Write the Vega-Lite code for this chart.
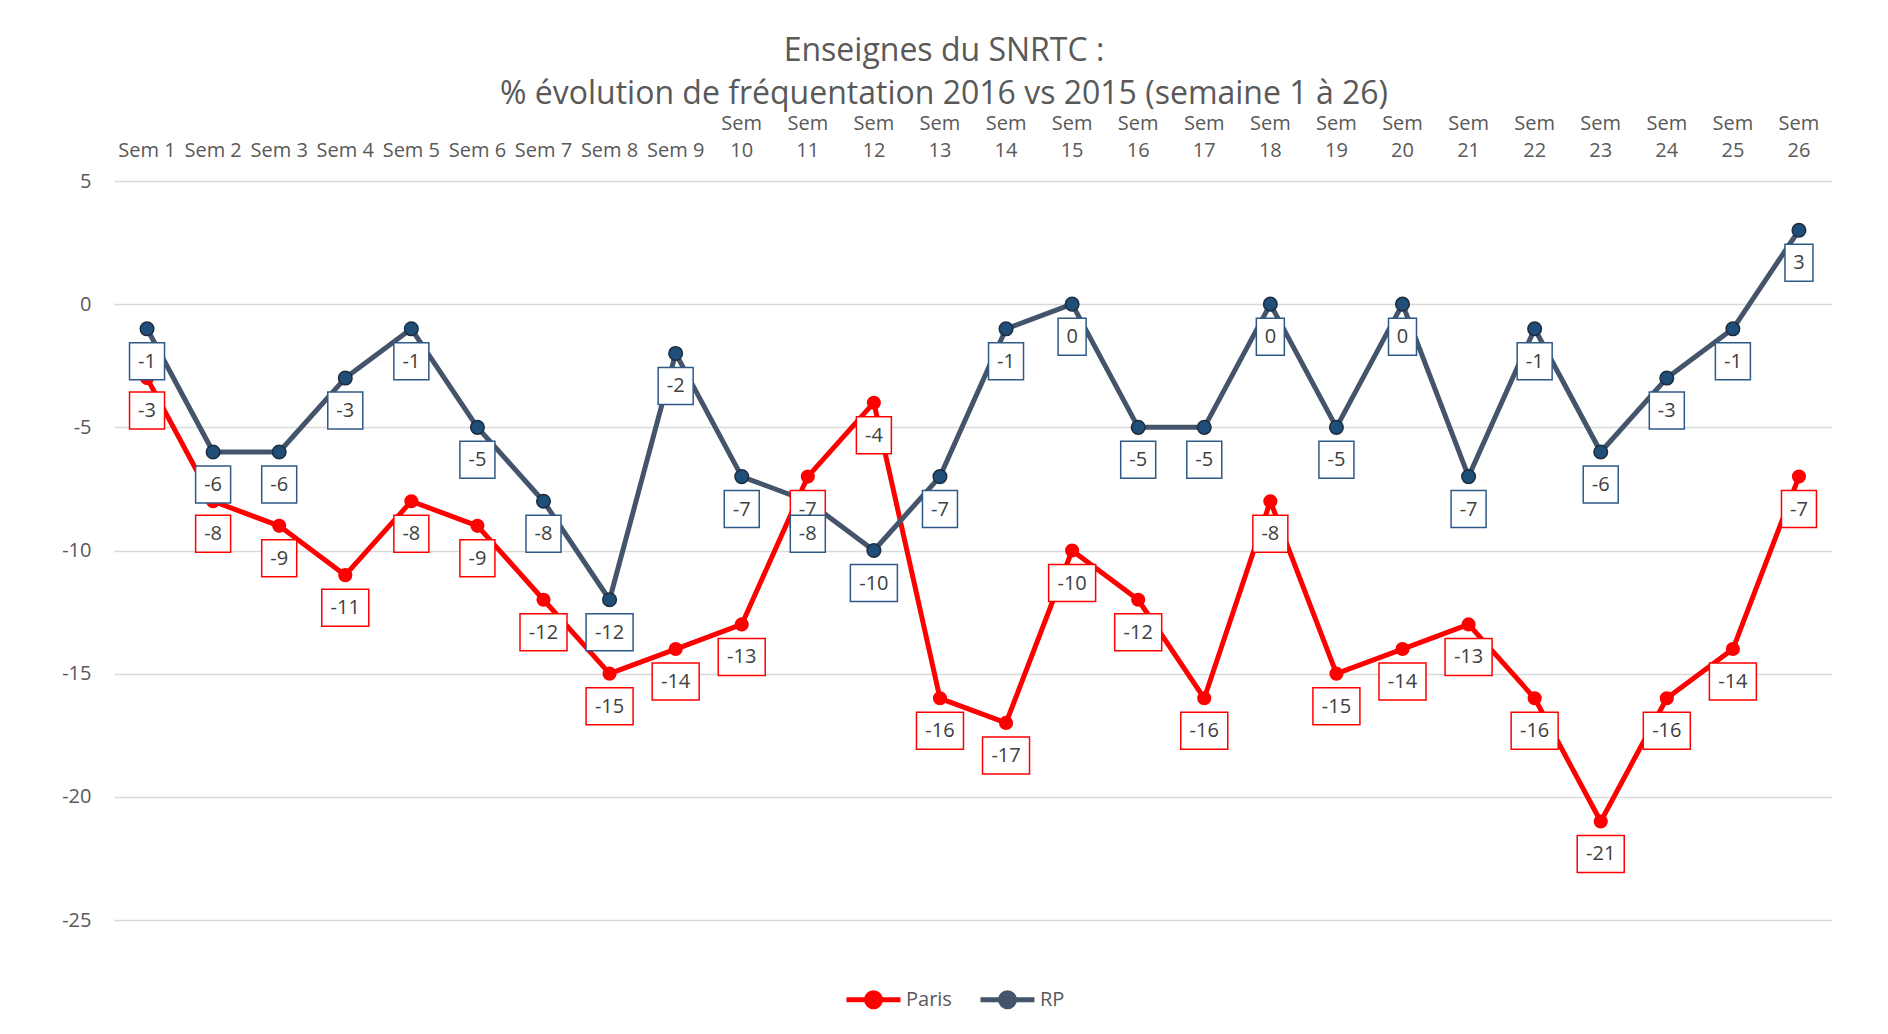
{
  "$schema": "https://vega.github.io/schema/vega-lite/v6.json",
  "width": 1718,
  "height": 739,
  "autosize": {"type": "none"},
  "padding": {"left": 114, "top": 181, "right": 56, "bottom": 114},
  "background": "white",
  "config": {
    "font": "Open Sans",
    "view": {"stroke": null},
    "axis": {"labelFont": "Open Sans", "labelColor": "#595959", "labelFontSize": 19}
  },
  "title": {
    "text": ["Enseignes du SNRTC :", "% évolution de fréquentation 2016 vs 2015 (semaine 1 à 26)"],
    "fontSize": 32,
    "font": "Open Sans",
    "fontWeight": "normal",
    "color": "#595959",
    "anchor": "middle",
    "lineHeight": 43,
    "dx": -29,
    "offset": 2
  },
  "data": {
    "values": [
      {"w": "Sem 1", "s": "Paris", "v": -3},
      {"w": "Sem 2", "s": "Paris", "v": -8},
      {"w": "Sem 3", "s": "Paris", "v": -9},
      {"w": "Sem 4", "s": "Paris", "v": -11},
      {"w": "Sem 5", "s": "Paris", "v": -8},
      {"w": "Sem 6", "s": "Paris", "v": -9},
      {"w": "Sem 7", "s": "Paris", "v": -12},
      {"w": "Sem 8", "s": "Paris", "v": -15},
      {"w": "Sem 9", "s": "Paris", "v": -14},
      {"w": "Sem 10", "s": "Paris", "v": -13},
      {"w": "Sem 11", "s": "Paris", "v": -7},
      {"w": "Sem 12", "s": "Paris", "v": -4},
      {"w": "Sem 13", "s": "Paris", "v": -16},
      {"w": "Sem 14", "s": "Paris", "v": -17},
      {"w": "Sem 15", "s": "Paris", "v": -10},
      {"w": "Sem 16", "s": "Paris", "v": -12},
      {"w": "Sem 17", "s": "Paris", "v": -16},
      {"w": "Sem 18", "s": "Paris", "v": -8},
      {"w": "Sem 19", "s": "Paris", "v": -15},
      {"w": "Sem 20", "s": "Paris", "v": -14},
      {"w": "Sem 21", "s": "Paris", "v": -13},
      {"w": "Sem 22", "s": "Paris", "v": -16},
      {"w": "Sem 23", "s": "Paris", "v": -21},
      {"w": "Sem 24", "s": "Paris", "v": -16},
      {"w": "Sem 25", "s": "Paris", "v": -14},
      {"w": "Sem 26", "s": "Paris", "v": -7},
      {"w": "Sem 1", "s": "RP", "v": -1},
      {"w": "Sem 2", "s": "RP", "v": -6},
      {"w": "Sem 3", "s": "RP", "v": -6},
      {"w": "Sem 4", "s": "RP", "v": -3},
      {"w": "Sem 5", "s": "RP", "v": -1},
      {"w": "Sem 6", "s": "RP", "v": -5},
      {"w": "Sem 7", "s": "RP", "v": -8},
      {"w": "Sem 8", "s": "RP", "v": -12},
      {"w": "Sem 9", "s": "RP", "v": -2},
      {"w": "Sem 10", "s": "RP", "v": -7},
      {"w": "Sem 11", "s": "RP", "v": -8},
      {"w": "Sem 12", "s": "RP", "v": -10},
      {"w": "Sem 13", "s": "RP", "v": -7},
      {"w": "Sem 14", "s": "RP", "v": -1},
      {"w": "Sem 15", "s": "RP", "v": 0},
      {"w": "Sem 16", "s": "RP", "v": -5},
      {"w": "Sem 17", "s": "RP", "v": -5},
      {"w": "Sem 18", "s": "RP", "v": 0},
      {"w": "Sem 19", "s": "RP", "v": -5},
      {"w": "Sem 20", "s": "RP", "v": 0},
      {"w": "Sem 21", "s": "RP", "v": -7},
      {"w": "Sem 22", "s": "RP", "v": -1},
      {"w": "Sem 23", "s": "RP", "v": -6},
      {"w": "Sem 24", "s": "RP", "v": -3},
      {"w": "Sem 25", "s": "RP", "v": -1},
      {"w": "Sem 26", "s": "RP", "v": 3}
    ]
  },
  "encoding": {
    "x": {
      "field": "w",
      "type": "nominal",
      "sort": null,
      "scale": {"paddingInner": 0, "paddingOuter": 0},
      "axis": {
        "orient": "top",
        "title": null,
        "labelAngle": 0,
        "labelOverlap": false,
        "labelFlush": false,
        "labelLimit": 0,
        "labelPadding": 48,
        "labelFontSize": 20,
        "labelLineHeight": 27,
        "labelExpr": "toNumber(slice(datum.value, 4)) >= 10 ? ['Sem', slice(datum.value, 4)] : ['', datum.value]",
        "domain": false,
        "ticks": false,
        "grid": false
      }
    },
    "y": {
      "field": "v",
      "type": "quantitative",
      "scale": {"domain": [-25, 5], "nice": false, "zero": false},
      "axis": {
        "title": null,
        "values": [-25, -20, -15, -10, -5, 0, 5],
        "labelExpr": "toString(datum.value)",
        "labelFontSize": 20,
        "domain": false,
        "ticks": false,
        "labelPadding": 23,
        "gridColor": "#D9D9D9",
        "gridWidth": 1.5
      }
    }
  },
  "layer": [
    {
      "mark": {"type": "line", "strokeWidth": 5, "strokeJoin": "round", "strokeCap": "round"},
      "encoding": {
        "color": {
          "field": "s",
          "type": "nominal",
          "scale": {"domain": ["Paris", "RP"], "range": ["#FF0000", "#44546A"]},
          "legend": {
            "title": null,
            "orient": "none",
            "direction": "horizontal",
            "legendX": 730,
            "legendY": 789,
            "padding": 0,
            "symbolType": "M-1,0L1,0M0.26,0A0.26,0.26,0,1,1,-0.26,0A0.26,0.26,0,1,1,0.26,0Z",
            "symbolSize": 2916,
            "symbolStrokeWidth": 5,
            "labelFont": "Open Sans",
            "labelFontSize": 20,
            "labelColor": "#595959",
            "labelOffset": 3,
            "columnPadding": 18,
            "encode": {
              "symbols": {"update": {"fill": {"scale": "color", "field": "value"}, "fillOpacity": {"value": 1}}}
            }
          }
        }
      }
    },
    {
      "transform": [{"filter": "datum.s == 'Paris'"}],
      "mark": {"type": "point", "filled": true, "size": 200, "color": "#FF0000", "opacity": 1}
    },
    {
      "transform": [{"filter": "datum.s == 'RP'"}],
      "mark": {"type": "point", "filled": true, "size": 185, "fill": "#1F4E79", "stroke": "#1E2E40", "strokeWidth": 1.5, "opacity": 1}
    },
    {
      "transform": [{"filter": "datum.v >= 0"}],
      "mark": {"type": "bar", "width": 28, "yOffset": 14, "y2Offset": 51, "fill": "white", "strokeWidth": 1.5},
      "encoding": {
        "y2": {"field": "v"},
        "stroke": {"field": "s", "type": "nominal", "scale": {"domain": ["Paris", "RP"], "range": ["#FF0000", "#2E5A88"]}, "legend": null}
      }
    },
    {
      "transform": [{"filter": "datum.v < 0 && datum.v > -10"}],
      "mark": {"type": "bar", "width": 35, "yOffset": 14, "y2Offset": 51, "fill": "white", "strokeWidth": 1.5},
      "encoding": {
        "y2": {"field": "v"},
        "stroke": {"field": "s", "type": "nominal", "scale": {"domain": ["Paris", "RP"], "range": ["#FF0000", "#2E5A88"]}, "legend": null}
      }
    },
    {
      "transform": [{"filter": "datum.v <= -10"}],
      "mark": {"type": "bar", "width": 47, "yOffset": 14, "y2Offset": 51, "fill": "white", "strokeWidth": 1.5},
      "encoding": {
        "y2": {"field": "v"},
        "stroke": {"field": "s", "type": "nominal", "scale": {"domain": ["Paris", "RP"], "range": ["#FF0000", "#2E5A88"]}, "legend": null}
      }
    },
    {
      "mark": {"type": "text", "yOffset": 33, "baseline": "middle", "align": "center", "font": "Open Sans", "fontSize": 20, "color": "#404040"},
      "encoding": {"text": {"field": "v", "type": "nominal"}}
    }
  ]
}
